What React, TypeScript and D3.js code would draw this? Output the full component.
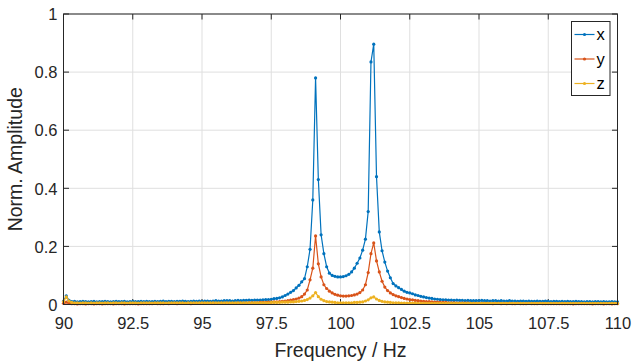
import React, { useRef, useEffect } from "react";
import * as d3 from "d3";

// spectrum bins: 90 Hz .. 110 Hz, 0.1 Hz apart
const freqStart = 90;
const freqStep = 0.1;

const ampX = [
  0.012, 0.030, 0.014, 0.010, 0.011, 0.009, 0.010, 0.011, 0.010, 0.009,
  0.010, 0.011, 0.009, 0.010, 0.010, 0.011, 0.010, 0.009, 0.010, 0.011,
  0.010, 0.010, 0.011, 0.009, 0.010, 0.011, 0.010, 0.010, 0.011, 0.010,
  0.011, 0.010, 0.010, 0.011, 0.010, 0.011, 0.012, 0.010, 0.011, 0.011,
  0.010, 0.011, 0.011, 0.012, 0.011, 0.010, 0.011, 0.012, 0.011, 0.012,
  0.011, 0.012, 0.012, 0.011, 0.012, 0.013, 0.012, 0.012, 0.013, 0.013,
  0.013, 0.012, 0.013, 0.014, 0.013, 0.014, 0.014, 0.015, 0.014, 0.015,
  0.015, 0.015, 0.016, 0.017, 0.017, 0.018, 0.020, 0.021, 0.023, 0.026,
  0.031, 0.036, 0.042, 0.048, 0.057, 0.066, 0.078, 0.089, 0.130, 0.190,
  0.360, 0.780, 0.430, 0.240, 0.175, 0.130, 0.108, 0.100, 0.097, 0.095,
  0.095, 0.096, 0.099, 0.104, 0.112, 0.125, 0.142, 0.160, 0.187, 0.225,
  0.320, 0.835, 0.896, 0.440, 0.250, 0.185, 0.146, 0.115, 0.092, 0.072,
  0.064, 0.058, 0.052, 0.046, 0.042, 0.040, 0.037, 0.033, 0.031, 0.028,
  0.026, 0.024, 0.022, 0.021, 0.019, 0.018, 0.017, 0.016, 0.016, 0.015,
  0.015, 0.014, 0.015, 0.014, 0.014, 0.013, 0.014, 0.013, 0.013, 0.013,
  0.013, 0.014, 0.013, 0.013, 0.012, 0.013, 0.013, 0.012, 0.013, 0.012,
  0.012, 0.013, 0.012, 0.012, 0.011, 0.012, 0.012, 0.011, 0.012, 0.011,
  0.011, 0.012, 0.011, 0.011, 0.012, 0.011, 0.010, 0.011, 0.011, 0.010,
  0.011, 0.010, 0.011, 0.010, 0.010, 0.011, 0.010, 0.010, 0.009, 0.010,
  0.010, 0.009, 0.010, 0.010, 0.009, 0.010, 0.009, 0.009, 0.010, 0.009,
  0.009,
];

const ampY = [
  0.004, 0.008, 0.004, 0.003, 0.003, 0.002, 0.003, 0.003, 0.002, 0.003,
  0.003, 0.002, 0.003, 0.003, 0.002, 0.003, 0.003, 0.003, 0.002, 0.003,
  0.003, 0.003, 0.002, 0.003, 0.003, 0.003, 0.003, 0.002, 0.003, 0.003,
  0.003, 0.003, 0.003, 0.004, 0.003, 0.003, 0.003, 0.004, 0.003, 0.004,
  0.004, 0.003, 0.004, 0.004, 0.004, 0.004, 0.003, 0.004, 0.004, 0.004,
  0.004, 0.004, 0.004, 0.004, 0.005, 0.004, 0.004, 0.005, 0.004, 0.005,
  0.004, 0.004, 0.004, 0.005, 0.005, 0.005, 0.005, 0.006, 0.006, 0.006,
  0.006, 0.007, 0.007, 0.007, 0.008, 0.008, 0.009, 0.009, 0.010, 0.011,
  0.012, 0.013, 0.015, 0.017, 0.019, 0.022, 0.027, 0.036, 0.050, 0.085,
  0.125, 0.236, 0.140, 0.095, 0.068, 0.055, 0.046, 0.040, 0.035, 0.032,
  0.030, 0.029, 0.029, 0.030, 0.031, 0.033, 0.036, 0.041, 0.050, 0.068,
  0.110, 0.175, 0.212, 0.150, 0.112, 0.080, 0.060, 0.048, 0.040, 0.034,
  0.030, 0.027, 0.024, 0.021, 0.019, 0.017, 0.016, 0.014, 0.013, 0.012,
  0.011, 0.010, 0.010, 0.009, 0.008, 0.008, 0.007, 0.007, 0.007, 0.006,
  0.006, 0.006, 0.005, 0.005, 0.005, 0.005, 0.005, 0.004, 0.004, 0.004,
  0.004, 0.004, 0.004, 0.004, 0.004, 0.003, 0.004, 0.004, 0.003, 0.004,
  0.003, 0.004, 0.003, 0.003, 0.004, 0.003, 0.003, 0.003, 0.004, 0.003,
  0.003, 0.003, 0.004, 0.003, 0.003, 0.003, 0.003, 0.003, 0.003, 0.003,
  0.003, 0.003, 0.003, 0.003, 0.002, 0.003, 0.003, 0.003, 0.003, 0.003,
  0.003, 0.002, 0.003, 0.003, 0.003, 0.002, 0.003, 0.003, 0.002, 0.003,
  0.003,
];

const ampZ = [
  0.010, 0.026, 0.012, 0.007, 0.006, 0.006, 0.005, 0.006, 0.006, 0.005,
  0.006, 0.005, 0.006, 0.006, 0.005, 0.006, 0.006, 0.005, 0.006, 0.006,
  0.005, 0.006, 0.006, 0.005, 0.006, 0.006, 0.006, 0.005, 0.006, 0.006,
  0.006, 0.006, 0.005, 0.006, 0.006, 0.006, 0.006, 0.005, 0.006, 0.006,
  0.006, 0.006, 0.006, 0.006, 0.005, 0.006, 0.006, 0.006, 0.006, 0.006,
  0.006, 0.006, 0.006, 0.006, 0.006, 0.006, 0.006, 0.006, 0.006, 0.006,
  0.006, 0.006, 0.006, 0.006, 0.006, 0.006, 0.006, 0.006, 0.006, 0.006,
  0.006, 0.006, 0.006, 0.006, 0.006, 0.007, 0.007, 0.007, 0.007, 0.008,
  0.008, 0.008, 0.009, 0.009, 0.010, 0.011, 0.012, 0.014, 0.017, 0.022,
  0.030, 0.041, 0.027, 0.018, 0.013, 0.010, 0.009, 0.008, 0.007, 0.006,
  0.006, 0.006, 0.006, 0.006, 0.006, 0.007, 0.007, 0.008, 0.009, 0.012,
  0.016, 0.023, 0.026, 0.019, 0.014, 0.011, 0.009, 0.008, 0.007, 0.006,
  0.006, 0.006, 0.005, 0.005, 0.005, 0.005, 0.005, 0.005, 0.004, 0.004,
  0.004, 0.004, 0.004, 0.004, 0.004, 0.004, 0.004, 0.004, 0.004, 0.004,
  0.004, 0.004, 0.004, 0.004, 0.004, 0.004, 0.004, 0.004, 0.004, 0.004,
  0.004, 0.004, 0.004, 0.004, 0.004, 0.004, 0.004, 0.004, 0.004, 0.004,
  0.004, 0.004, 0.004, 0.004, 0.004, 0.004, 0.004, 0.004, 0.004, 0.004,
  0.004, 0.004, 0.004, 0.004, 0.004, 0.004, 0.004, 0.004, 0.004, 0.004,
  0.004, 0.004, 0.004, 0.004, 0.004, 0.004, 0.004, 0.004, 0.004, 0.004,
  0.004, 0.004, 0.004, 0.004, 0.004, 0.004, 0.004, 0.004, 0.004, 0.004,
  0.004,
];

const seriesNames = ["x", "y", "z"];
const seriesColors = ["#0072BD", "#D95319", "#EDB120"];
const xTicks = [90, 92.5, 95, 97.5, 100, 102.5, 105, 107.5, 110];
const yTicks = [0, 0.2, 0.4, 0.6, 0.8, 1];

const W = 635;
const H = 361;
const axisColor = "#262626";
const font = "'Liberation Sans', Arial, Helvetica, sans-serif";

function App() {
  const svgRef = useRef<SVGSVGElement>(null);

  useEffect(() => {
    const svg = d3.select(svgRef.current);
    svg.selectAll("*").remove();

    const left = 63.5, right = 617.5, top = 14, bottom = 304.5;
    const xscale = d3.scaleLinear().domain([90, 110]).range([left, right]);
    const yscale = d3.scaleLinear().domain([0, 1]).range([bottom, top]);

    const allSeries = [ampX, ampY, ampZ].map((vals) =>
      vals.map((v, i) => ({ f: freqStart + i * freqStep, v }))
    );

    // grid
    const grid = svg.append("g");
    grid.selectAll(".gx").data(xTicks).join("line")
      .attr("x1", d => xscale(d)).attr("x2", d => xscale(d))
      .attr("y1", top).attr("y2", bottom)
      .attr("stroke", "#dfdfdf").attr("stroke-width", 1);
    grid.selectAll(".gy").data(yTicks).join("line")
      .attr("x1", left).attr("x2", right)
      .attr("y1", d => yscale(d)).attr("y2", d => yscale(d))
      .attr("stroke", "#dfdfdf").attr("stroke-width", 1);

    // box + ticks
    const tickLen = 5.5;
    const fmt = d3.format("");
    const xaxis = d3.axisBottom(xscale).tickValues(xTicks).tickSize(0).tickPadding(0).tickFormat(fmt as any);
    const yaxis = d3.axisLeft(yscale).tickValues(yTicks).tickSize(0).tickPadding(0).tickFormat(fmt as any);

    const gx = svg.append("g").attr("transform", `translate(0,${bottom})`).call(xaxis);
    gx.select(".domain").remove();
    gx.selectAll("text").attr("y", 24.5).attr("dy", null)
      .attr("font-size", 16.5).attr("font-family", font).attr("fill", axisColor);

    const gy = svg.append("g").attr("transform", `translate(${left},0)`).call(yaxis);
    gy.select(".domain").remove();
    gy.selectAll("text").attr("x", -6).attr("dy", "0.35em")
      .attr("font-size", 16.5).attr("font-family", font).attr("fill", axisColor);

    const ticks = svg.append("g").attr("stroke", axisColor).attr("stroke-width", 1);
    xTicks.forEach(t => {
      const x = xscale(t);
      ticks.append("line").attr("x1", x).attr("x2", x).attr("y1", bottom).attr("y2", bottom - tickLen);
      ticks.append("line").attr("x1", x).attr("x2", x).attr("y1", top).attr("y2", top + tickLen);
    });
    yTicks.forEach(t => {
      const y = yscale(t);
      ticks.append("line").attr("x1", left).attr("x2", left + tickLen).attr("y1", y).attr("y2", y);
      ticks.append("line").attr("x1", right).attr("x2", right - tickLen).attr("y1", y).attr("y2", y);
    });

    // data
    const myLine = d3.line<{ f: number; v: number }>()
      .x(d => xscale(d.f))
      .y(d => yscale(d.v));

    allSeries.forEach((pts, k) => {
      const g = svg.append("g");
      g.append("path")
        .attr("d", myLine(pts))
        .attr("fill", "none")
        .attr("stroke", seriesColors[k])
        .attr("stroke-width", 1.2);
      g.selectAll("circle").data(pts).join("circle")
        .attr("cx", d => xscale(d.f))
        .attr("cy", d => yscale(d.v))
        .attr("r", 1.6)
        .attr("fill", seriesColors[k]);
    });

    svg.append("rect")
      .attr("x", left).attr("y", top)
      .attr("width", right - left).attr("height", bottom - top)
      .attr("fill", "none").attr("stroke", axisColor).attr("stroke-width", 1);

    // axis labels
    svg.append("text")
      .attr("x", (left + right) / 2).attr("y", 357)
      .attr("text-anchor", "middle")
      .attr("font-size", 19.5).attr("font-family", font).attr("fill", axisColor)
      .text("Frequency / Hz");
    svg.append("text")
      .attr("transform", `translate(22,${(top + bottom) / 2}) rotate(-90)`)
      .attr("text-anchor", "middle")
      .attr("font-size", 19.5).attr("font-family", font).attr("fill", axisColor)
      .text("Norm. Amplitude");

    // legend
    const lx = 571.5, ly = 21.5, lw = 38.5, lh = 74;
    const legend = svg.append("g");
    legend.append("rect")
      .attr("x", lx).attr("y", ly).attr("width", lw).attr("height", lh)
      .attr("fill", "white").attr("stroke", axisColor).attr("stroke-width", 1);
    seriesNames.forEach((name, k) => {
      const cy = ly + 13 + k * 24.5;
      legend.append("line")
        .attr("x1", lx + 3).attr("x2", lx + 23).attr("y1", cy).attr("y2", cy)
        .attr("stroke", seriesColors[k]).attr("stroke-width", 1.2);
      legend.append("circle")
        .attr("cx", lx + 13).attr("cy", cy).attr("r", 1.6)
        .attr("fill", seriesColors[k]);
      legend.append("text")
        .attr("x", lx + 25).attr("y", cy).attr("dy", "0.35em")
        .attr("font-size", 16.5).attr("font-family", font).attr("fill", "#000")
        .text(name);
    });
  }, []);

  return (
    <svg ref={svgRef} width={W} height={H}
      style={{ position: "absolute", left: 0, top: 0, background: "white" }} />
  );
}

export default App;
